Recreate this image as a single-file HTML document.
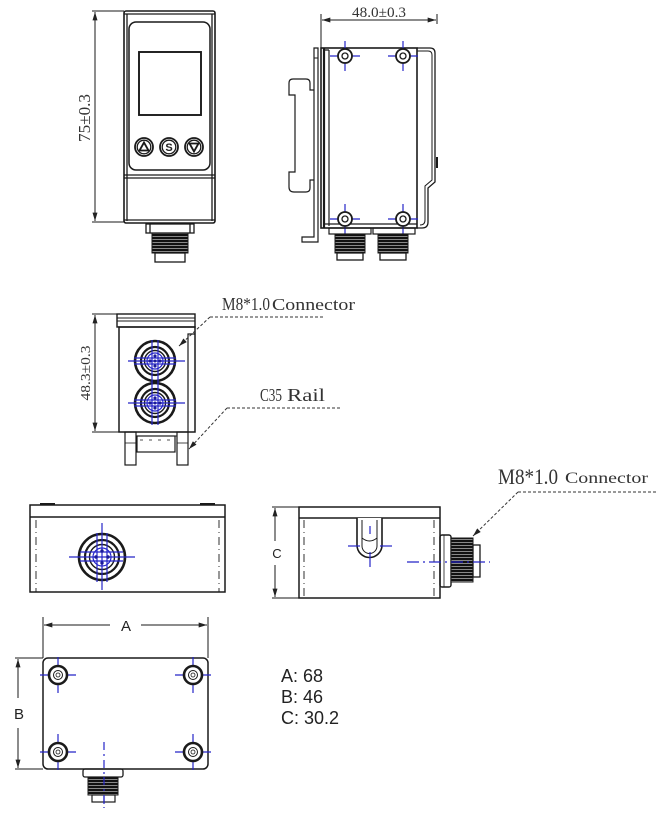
<!DOCTYPE html>
<html><head><meta charset="utf-8"><style>
html,body{margin:0;padding:0;background:#fff;}
svg{display:block;}
.k{stroke:#1a1a1a;fill:none;stroke-width:1.3}
.b{stroke:#2424c8;fill:none;stroke-width:1.2}
.ser{font-family:"Liberation Serif",serif;fill:#333}
.san{font-family:"Liberation Sans",sans-serif;fill:#222}
</style></head><body>
<svg width="668" height="819" viewBox="0 0 668 819" xmlns="http://www.w3.org/2000/svg">
<defs>
<marker id="ar" viewBox="0 0 10 6" refX="10" refY="3" markerWidth="9" markerHeight="5" markerUnits="userSpaceOnUse" orient="auto-start-reverse"><path d="M0,0 L10,3 L0,6 z" fill="#222"/></marker>
<pattern id="thr" width="4" height="3" patternUnits="userSpaceOnUse"><rect width="4" height="3" fill="#111"/><rect y="2" width="4" height="0.7" fill="#bbb"/></pattern>
</defs>

<!-- ============ FRONT VIEW (top-left) ============ -->
<g class="k">
<line x1="92" y1="11" x2="124" y2="11" stroke-width="1"/>
<line x1="92" y1="222" x2="124" y2="222" stroke-width="1"/>
<line x1="95" y1="12" x2="95" y2="221" stroke-width="1" marker-start="url(#ar)" marker-end="url(#ar)"/>
<rect x="124" y="11" width="91" height="212" rx="2" stroke-width="1.6"/>
<line x1="124" y1="14" x2="215" y2="14"/>
<line x1="127" y1="14" x2="127" y2="221"/>
<line x1="212" y1="14" x2="212" y2="221"/>
<rect x="129" y="22" width="81" height="148" rx="7" stroke-width="1.5"/>
<rect x="139" y="52" width="62" height="63" stroke-width="1.9"/>
<line x1="124" y1="175" x2="215" y2="175"/>
<line x1="124" y1="178" x2="215" y2="178"/>
<line x1="124" y1="220" x2="215" y2="220"/>
<circle cx="144" cy="147" r="9" stroke-width="1.8"/><circle cx="144" cy="147" r="6.8"/>
<circle cx="169" cy="147" r="9" stroke-width="1.8"/><circle cx="169" cy="147" r="6.8"/>
<circle cx="194" cy="147" r="9" stroke-width="1.8"/><circle cx="194" cy="147" r="6.8"/>
<polygon points="144,142.5 139.5,150.5 148.5,150.5" stroke-width="1.8"/>
<polygon points="194,151.5 189.5,143.5 198.5,143.5" stroke-width="1.8"/>
<!-- connector -->
<rect x="146" y="224" width="48" height="9" stroke-width="1.3"/>
<line x1="150" y1="224" x2="150" y2="233"/><line x1="190" y1="224" x2="190" y2="233"/>
<rect x="152" y="233" width="36" height="20" fill="url(#thr)" stroke-width="1"/>
<rect x="155" y="253" width="30" height="9" stroke-width="1.3"/>
</g>
<text class="ser" font-size="17" transform="translate(90,118) rotate(-90)" text-anchor="middle" textLength="48" lengthAdjust="spacingAndGlyphs">75±0.3</text>
<text class="san" x="169" y="151" font-size="11" font-weight="bold" text-anchor="middle">S</text>

<!-- ============ SIDE VIEW (top-right) ============ -->
<text class="ser" x="379" y="17" font-size="15" text-anchor="middle" textLength="54" lengthAdjust="spacingAndGlyphs">48.0±0.3</text>
<g class="k">
<line x1="321" y1="14" x2="321" y2="48" stroke-width="1"/>
<line x1="437" y1="14" x2="437" y2="24" stroke-width="1"/>
<line x1="322" y1="20" x2="436" y2="20" stroke-width="1" marker-start="url(#ar)" marker-end="url(#ar)"/>
<!-- bracket -->
<path d="M314,48 L318,48 L318,242 L302,242 L302,237 L314,237 Z" stroke-width="1.2"/>
<line x1="314" y1="58" x2="318" y2="58" stroke-width="1"/>
<!-- C channel -->
<path d="M314,90 L310,90 L310,83 Q310,79 306,79 L293,79 Q289,79 289,83 L289,95 L295,95 L295,172 L289,172 L289,187 Q289,192 294,192 L306,192 Q310,192 310,188 L310,180 L314,180" stroke-width="1.2"/>
<!-- body -->
<rect x="321" y="48" width="96" height="180" stroke-width="1.6"/>
<line x1="324" y1="48" x2="324" y2="228" stroke-width="2.2"/>
<line x1="329" y1="50" x2="329" y2="226" stroke-width="1.2"/>
<line x1="324" y1="50" x2="329" y2="50"/>
<line x1="324" y1="224" x2="417" y2="224"/>
<!-- right outline -->
<path d="M417,48 L430,48 Q435,48 435,53 L435,182 L428,188 L428,222 Q428,228 422,228 L417,228" stroke-width="1.3"/>
<path d="M417,51 L428,51 Q432,51 432,55 L432,180 L425,186 L425,220 Q425,225 420,225" stroke-width="1"/>
<line x1="437" y1="157" x2="437" y2="168" stroke-width="2"/>
</g>
<!-- holes -->
<g class="b">
<line x1="330" y1="56" x2="360" y2="56"/><line x1="345" y1="41" x2="345" y2="71"/>
<line x1="388" y1="56" x2="418" y2="56"/><line x1="403" y1="41" x2="403" y2="71"/>
<line x1="330" y1="219" x2="360" y2="219"/><line x1="345" y1="204" x2="345" y2="234"/>
<line x1="388" y1="219" x2="418" y2="219"/><line x1="403" y1="204" x2="403" y2="234"/>
</g>
<g class="k" fill="#fff">
<circle cx="345" cy="56" r="7" fill="#fff" stroke-width="1.8"/><circle cx="345" cy="56" r="3"/>
<circle cx="403" cy="56" r="7" fill="#fff" stroke-width="1.8"/><circle cx="403" cy="56" r="3"/>
<circle cx="345" cy="219" r="7" fill="#fff" stroke-width="1.8"/><circle cx="345" cy="219" r="3"/>
<circle cx="403" cy="219" r="7" fill="#fff" stroke-width="1.8"/><circle cx="403" cy="219" r="3"/>
</g>
<g class="k">
<rect x="329" y="228" width="42" height="6" stroke-width="1.2"/>
<rect x="335" y="234" width="30" height="19" fill="url(#thr)" stroke-width="1"/>
<rect x="337" y="253" width="26" height="7"/>
<rect x="373" y="228" width="42" height="6" stroke-width="1.2"/>
<rect x="378" y="234" width="30" height="19" fill="url(#thr)" stroke-width="1"/>
<rect x="380" y="253" width="26" height="7"/>
</g>

<!-- ============ MIDDLE VIEW ============ -->
<text class="ser" font-size="14" transform="translate(90,373) rotate(-90)" text-anchor="middle" textLength="55" lengthAdjust="spacingAndGlyphs">48.3±0.3</text>
<text class="ser" x="222" y="310" font-size="18" textLength="48" lengthAdjust="spacingAndGlyphs">M8*1.0</text>
<text class="ser" x="272" y="310" font-size="17" textLength="83" lengthAdjust="spacingAndGlyphs">Connector</text>
<text class="ser" x="260" y="401" font-size="18" textLength="22" lengthAdjust="spacingAndGlyphs">C35</text>
<text class="ser" x="287" y="401" font-size="18" textLength="38" lengthAdjust="spacingAndGlyphs">Rail</text>
<g class="k">
<line x1="92" y1="314" x2="117" y2="314" stroke-width="1"/>
<line x1="92" y1="432" x2="119" y2="432" stroke-width="1"/>
<line x1="95" y1="315" x2="95" y2="431" stroke-width="1" marker-start="url(#ar)" marker-end="url(#ar)"/>
<rect x="117" y="314" width="78" height="13" stroke-width="1.4"/>
<line x1="117" y1="318" x2="195" y2="318" stroke-width="1"/>
<line x1="117" y1="321" x2="195" y2="321" stroke-width="1"/>
<rect x="119" y="327" width="76" height="105" stroke-width="1.5"/>
<polyline points="188,432 188,334 195,334" stroke-width="1.2"/>
<!-- feet -->
<rect x="125" y="432" width="11" height="33" stroke-width="1.2"/>
<line x1="125" y1="443" x2="136" y2="443" stroke-width="0.8"/>
<rect x="177" y="432" width="11" height="33" stroke-width="1.2"/>
<line x1="177" y1="443" x2="188" y2="443" stroke-width="0.8"/>
<line x1="136" y1="436" x2="177" y2="436" stroke-width="1"/>
<rect x="137" y="436" width="38" height="16" stroke-width="1.2"/>
<line x1="140" y1="440" x2="172" y2="440" stroke-width="0.8" stroke-dasharray="3,6"/>
<!-- connectors -->
<circle cx="155" cy="361" r="20" stroke-width="2.6"/>
<circle cx="155" cy="361" r="14" stroke-width="2.2"/>
<circle cx="155" cy="361" r="10.5" stroke-width="1.4"/>
<circle cx="155" cy="403" r="20" stroke-width="2.6"/>
<circle cx="155" cy="403" r="14" stroke-width="2.2"/>
<circle cx="155" cy="403" r="10.5" stroke-width="1.4"/>
</g>
<g class="b">
<circle cx="155" cy="361" r="8"/><circle cx="155" cy="403" r="8"/>
<line x1="128" y1="361" x2="185" y2="361"/><line x1="134" y1="358" x2="176" y2="358"/><line x1="134" y1="364" x2="176" y2="364"/>
<line x1="128" y1="403" x2="185" y2="403"/><line x1="134" y1="400" x2="176" y2="400"/><line x1="134" y1="406" x2="176" y2="406"/>
<line x1="152" y1="340" x2="152" y2="425"/><line x1="158" y1="340" x2="158" y2="425"/>
</g>
<g fill="#1c1c9a">
<circle cx="155" cy="361" r="1.5"/><circle cx="150" cy="361" r="1.6"/><circle cx="160" cy="361" r="1.6"/><circle cx="155" cy="356" r="1.6"/><circle cx="155" cy="366" r="1.6"/>
<circle cx="155" cy="403" r="1.5"/><circle cx="150" cy="403" r="1.6"/><circle cx="160" cy="403" r="1.6"/><circle cx="155" cy="398" r="1.6"/><circle cx="155" cy="408" r="1.6"/>
</g>
<g stroke="#333" stroke-width="1" fill="none" stroke-dasharray="3,2">
<line x1="210" y1="317" x2="323" y2="317"/>
<line x1="227" y1="408" x2="342" y2="408"/>
<line x1="518" y1="492" x2="658" y2="492"/>
</g>
<g stroke="#333" stroke-width="1" fill="none">
<line x1="210" y1="317" x2="179" y2="346" stroke-dasharray="3,2" marker-end="url(#ar)"/>
<line x1="227" y1="408" x2="189" y2="449" stroke-dasharray="3,2" marker-end="url(#ar)"/>
<line x1="518" y1="492" x2="473" y2="536" stroke-dasharray="3,2" marker-end="url(#ar)"/>
</g>

<!-- ============ BOTTOM-LEFT VIEW ============ -->
<g class="k">
<rect x="30" y="505" width="195" height="87" stroke-width="1.5"/>
<line x1="30" y1="517" x2="225" y2="517" stroke-width="1.4"/>
<line x1="40" y1="504" x2="55" y2="504" stroke-width="2"/>
<line x1="200" y1="504" x2="215" y2="504" stroke-width="2"/>
<line x1="36" y1="520" x2="36" y2="592" stroke-width="0.9" stroke-dasharray="8,4,1,4"/>
<line x1="219" y1="520" x2="219" y2="592" stroke-width="0.9" stroke-dasharray="8,4,1,4"/>
<circle cx="102" cy="557" r="23" stroke-width="2.6"/>
<circle cx="102" cy="557" r="17" stroke-width="2.2"/>
<circle cx="102" cy="557" r="12.5" stroke-width="1.4"/>
</g>
<g class="b">
<circle cx="102" cy="557" r="9"/>
<line x1="69" y1="557" x2="135" y2="557"/><line x1="80" y1="552" x2="123" y2="552"/><line x1="80" y1="561" x2="123" y2="561"/>
<line x1="102" y1="523" x2="102" y2="590"/><line x1="97" y1="533" x2="97" y2="582"/><line x1="107" y1="533" x2="107" y2="582"/>
</g>
<g fill="#1c1c9a">
<circle cx="96" cy="557" r="1.7"/><circle cx="108" cy="557" r="1.7"/><circle cx="102" cy="551" r="1.7"/><circle cx="102" cy="563" r="1.7"/>
</g>

<!-- ============ BOTTOM-RIGHT VIEW ============ -->
<text class="ser" x="498" y="484" font-size="22" textLength="60" lengthAdjust="spacingAndGlyphs">M8*1.0</text>
<text class="ser" x="565" y="483" font-size="16" textLength="83" lengthAdjust="spacingAndGlyphs">Connector</text>
<g class="k">
<line x1="272" y1="507" x2="299" y2="507" stroke-width="1"/>
<line x1="272" y1="598" x2="299" y2="598" stroke-width="1"/>
<line x1="275" y1="508" x2="275" y2="541" stroke-width="1" marker-start="url(#ar)"/>
<line x1="275" y1="565" x2="275" y2="597" stroke-width="1" marker-end="url(#ar)"/>
<rect x="299" y="507" width="141" height="91" stroke-width="1.5"/>
<line x1="299" y1="518" x2="440" y2="518" stroke-width="1.4"/>
<line x1="304" y1="520" x2="304" y2="598" stroke-width="0.9" stroke-dasharray="8,4,1,4"/>
<line x1="434" y1="520" x2="434" y2="598" stroke-width="0.9" stroke-dasharray="8,4,1,4"/>
<path d="M357,518 L357,545 A12.5,12.5 0 0 0 382,545 L382,518" stroke-width="1.6" fill="#fff"/>
<path d="M362,520 L362,546 A7.5,7.5 0 0 0 377,546 L377,520" stroke-width="1"/>
<path d="M362,538 Q369.5,544 377,538" stroke-width="1"/>
<rect x="440" y="535" width="11" height="52" rx="2" stroke-width="1.4"/>
<line x1="444" y1="535" x2="444" y2="587" stroke-width="0.8"/>
<rect x="451" y="538" width="22" height="44" fill="url(#thr)" stroke-width="1"/>
<rect x="473" y="545" width="7" height="32" stroke-width="1.3"/>
</g>
<text class="san" x="277" y="558" font-size="13" text-anchor="middle">C</text>
<g class="b">
<line x1="348" y1="546" x2="360" y2="546"/><line x1="380" y1="546" x2="392" y2="546"/>
<line x1="370" y1="526" x2="370" y2="534"/><line x1="370" y1="552" x2="370" y2="567"/>
<line x1="407" y1="562" x2="490" y2="562" stroke-dasharray="12,4,2,4"/>
</g>

<!-- ============ BOTTOM VIEW ============ -->
<g class="k">
<line x1="43" y1="617" x2="43" y2="658" stroke-width="1"/>
<line x1="208" y1="617" x2="208" y2="658" stroke-width="1"/>
<line x1="44" y1="625" x2="110" y2="625" stroke-width="1" marker-start="url(#ar)"/>
<line x1="141" y1="625" x2="207" y2="625" stroke-width="1" marker-end="url(#ar)"/>
<line x1="15" y1="658" x2="43" y2="658" stroke-width="1"/>
<line x1="15" y1="769" x2="43" y2="769" stroke-width="1"/>
<line x1="18" y1="659" x2="18" y2="698" stroke-width="1" marker-start="url(#ar)"/>
<line x1="18" y1="728" x2="18" y2="768" stroke-width="1" marker-end="url(#ar)"/>
<rect x="43" y="658" width="165" height="111" rx="5" stroke-width="1.5"/>
</g>
<text class="san" x="126" y="631" font-size="15" text-anchor="middle">A</text>
<text class="san" x="19" y="719" font-size="15" text-anchor="middle">B</text>
<g class="b">
<line x1="40" y1="675" x2="76" y2="675"/><line x1="58" y1="657" x2="58" y2="693"/>
<line x1="175" y1="675" x2="211" y2="675"/><line x1="193" y1="657" x2="193" y2="693"/>
<line x1="40" y1="752" x2="76" y2="752"/><line x1="58" y1="734" x2="58" y2="770"/>
<line x1="175" y1="752" x2="211" y2="752"/><line x1="193" y1="734" x2="193" y2="770"/>
<line x1="104" y1="742" x2="104" y2="808" stroke-dasharray="8,4,2,4"/>
</g>
<g class="k">
<circle cx="58" cy="675" r="9" fill="#fff" stroke-width="2.6"/><circle cx="58" cy="675" r="4.5" stroke-width="1"/><circle cx="58" cy="675" r="2" stroke-width="0.8"/>
<circle cx="193" cy="675" r="9" fill="#fff" stroke-width="2.6"/><circle cx="193" cy="675" r="4.5" stroke-width="1"/><circle cx="193" cy="675" r="2" stroke-width="0.8"/>
<circle cx="58" cy="752" r="9" fill="#fff" stroke-width="2.6"/><circle cx="58" cy="752" r="4.5" stroke-width="1"/><circle cx="58" cy="752" r="2" stroke-width="0.8"/>
<circle cx="193" cy="752" r="9" fill="#fff" stroke-width="2.6"/><circle cx="193" cy="752" r="4.5" stroke-width="1"/><circle cx="193" cy="752" r="2" stroke-width="0.8"/>
<rect x="83" y="769" width="40" height="8" rx="2" stroke-width="1.3"/>
<rect x="88" y="777" width="30" height="18" fill="url(#thr)" stroke-width="1"/>
<rect x="92" y="795" width="23" height="7" stroke-width="1.2"/>
</g>
<line x1="104" y1="777" x2="104" y2="808" stroke="#2424c8" stroke-width="1.2" stroke-dasharray="8,4,2,4"/>

<!-- ============ LEGEND ============ -->
<text class="san" x="281" y="682" font-size="18">A: 68</text>
<text class="san" x="281" y="703" font-size="18">B: 46</text>
<text class="san" x="281" y="724" font-size="18">C: 30.2</text>
</svg>
</body></html>
